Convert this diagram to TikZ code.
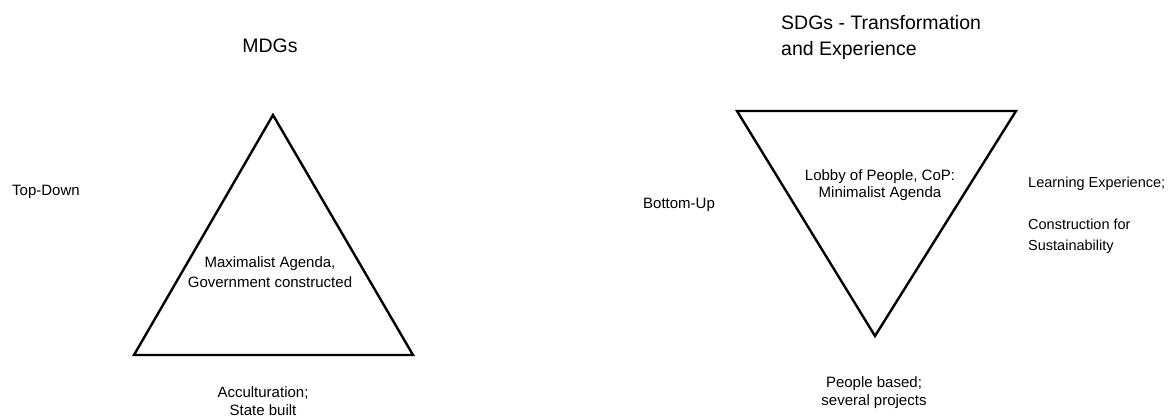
\documentclass[tikz,border=0pt]{standalone}
\usepackage{fontspec}
\setmainfont{Liberation Sans}
\begin{document}
\begin{tikzpicture}[x=1pt,y=-1pt,
  lbl/.style={inner sep=0pt,font=\fontsize{15}{19}\selectfont,align=center},
  lbll/.style={inner sep=0pt,font=\fontsize{15}{21}\selectfont,align=left,anchor=west},
  ttl/.style={inner sep=0pt,font=\fontsize{19.5}{26}\selectfont},
  tri/.style={draw=black,line width=2.4pt,line join=miter}]
\useasboundingbox[fill=white] (0,0) rectangle (1173,419);
% left triangle
\coordinate (La) at (273,115);
\coordinate (Lb) at (134,355);
\coordinate (Lc) at (413,355);
\draw[tri] (La) -- (Lb) -- (Lc) -- cycle;
% right triangle
\coordinate (Ra) at (737,111);
\coordinate (Rb) at (1016,111);
\coordinate (Rc) at (875,336);
\draw[tri] (Ra) -- (Rb) -- (Rc) -- cycle;
% texts
\node[ttl] (mdg) at (270,46) {MDGs};
\node[ttl,anchor=west,align=left] (sdg) at (781,37) {SDGs - Transformation\\and Experience};
\node[lbll] (td) at (12,192) {Top-Down};
\node[lbll] (bu) at (643,205) {Bottom-Up};
\node[lbl,font=\fontsize{15}{20}\selectfont] (max) at (270,272) {Maximalist Agenda,\\Government constructed};
\node[lbl,font=\fontsize{15}{18}\selectfont] (acc) at (263,401) {Acculturation;\\State built};
\node[lbl,font=\fontsize{15}{17.5}\selectfont] (lob) at (880,185) {Lobby of People, CoP:\\Minimalist Agenda};
\node[lbl,font=\fontsize{15}{18}\selectfont] (ppl) at (874,393) {People based;\\several projects};
\node[lbll,font=\fontsize{14.5}{21}\selectfont] (lrn) at (1028,215) {Learning Experience;\\[21pt]Construction for\\Sustainability};
\end{tikzpicture}
\end{document}
